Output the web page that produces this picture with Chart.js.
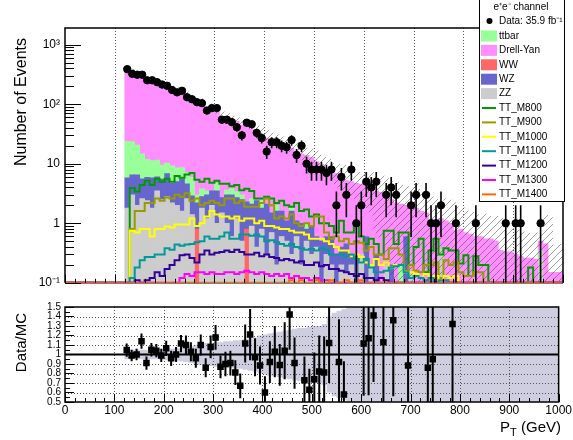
<!DOCTYPE html>
<html><head><meta charset="utf-8">
<script src="https://cdn.jsdelivr.net/npm/chart.js@4"></script>
<style>
html,body{margin:0;padding:0;background:#fff;}
#wrap{position:relative;width:573px;height:440px;overflow:hidden;background:#fff}
#c1{position:absolute;left:0;top:0}
#c2{position:absolute;left:0;top:295px}
</style></head><body>
<div id="wrap"><canvas id="c1" width="573" height="295"></canvas><canvas id="c2" width="573" height="145"></canvas></div>
<script>
const FONT = "'Liberation Sans', Arial, Helvetica, sans-serif";

// ---- categories: pT bin centres (GeV), 10 GeV bins ----
const ptCenters = [125,135,145,155,165,175,185,195,205,215,
  225,235,245,255,265,275,285,295,305,315,
  325,335,345,355,365,375,385,395,405,415,
  425,435,445,455,465,475,485,495,505,515,
  525,535,545,555,565,575,585,595,605,615,
  625,635,645,655,665,675,685,695,705,715,
  725,735,745,755,765,775,785,795,805,815,
  825,835,845,855,865,875,885,895,905,915,
  925,935,945,955,965,975,985,995];

// ---- data (events per bin) ----
const dataCounts = [388,324,313,313,252,252,234,214,204,173,
  158,168,131,121,108,104,78,86,86,55,
  55,50,41,30,49,46,33,27,16,23,
  23,20,19,25,14,20,10,8,8,8,
  7,8,2,6,3,8,1,2,5,4,
  5,0,3,4,3,0,0,2,3,0,
  3,1,1,2,0,0,1,0,0,0,
  1,0,0,0,0,0,1,0,1,1,
  0,0,0,1,0,0,0,0];

// ---- backgrounds (stacked) ----
const zzYield = [1.8,3.0,2.0,2.6,2.4,1.8,3.5,2.5,2.8,2.2,
  2.0,1.6,2.6,1.4,0,1.8,1.2,2.0,1.0,1.5,
  1.0,0.6,1.2,0.5,0,0.9,0.4,0.8,0.3,0.7,
  0.2,0.6,0.5,0.3,0.6,0.2,0.5,0.3,0.4,0,
  0.3,0.2,0,0.2,0.15,0.2,0,0.3,0,0.2,
  0.1,0,0.2,0,0,0,0,0.15,0,0,
  0.1,0,0,0.37,0,0,0,0,0,0,
  0,0,0,0,0,0,0,0,0,0,
  0,0,0,0.35,0,0,0,0];
const wwYield = [0,0,0,0,0,0,0,0,0,0,
  0,0,0,0,0.8,0,0,0,0,0,
  0,0,0,0,0.8,0,0,0,0,0,
  0,0,0,0,0,0,0,0,0,0,
  0,0,0,0,0,0,0,0,0,0,
  0,0,0,0,0,0,0,0,0,0,
  0,0,0,0,0,0,0,0,0,0,
  0,0,0,0,0,0,0,0,0,0,
  0,0,0,0,0,0,0,0];
const wzYield = [4.0,3.5,4.5,3.0,3.5,4.0,2.5,3.0,4.0,2.5,
  3.0,4.0,2.0,1.5,1.4,1.0,1.8,1.5,2.5,1.2,
  2.0,2.4,1.5,2.0,1.5,1.2,2.0,1.0,1.8,0.8,
  1.4,1.0,0.6,1.3,0.5,0.8,0.3,0.6,0.2,0.5,
  0.3,0.4,0.3,0.2,0.3,0.1,0.3,0,0.6,0,
  0.2,0,0,0.2,0,0,0.6,0,0,0,
  0,0,0,0,0,0,0,0,0,0,
  0,0,0,0,0,0,0,0,0,0,
  0,0,0,0,0,0,0,0];
const ttbarYield = [18,17,14,9,6,5.5,5.5,4,3.5,4.5,
  3.5,3.0,2.5,3.0,0.8,1.0,0.5,0,1.2,0,
  0.6,0.8,0.7,0.5,0,0.5,0,0.6,0,0,
  0.4,0,0,0.3,0,0,0.2,0,0,0,
  0,0,0,0,0,0,0,0,0,0,
  0,0,0,0,0,0.2,0,0,0,0,
  0,0,0,0,0,0,0,0,0,0,
  0,0,0,0,0,0,0,0,0,0,
  0,0,0,0,0,0,0,0];
const dyYield = [347,304,292,260,265,229,214,206,182,171,
  150,142,112,111,109,91,88,77,68,60,
  58,51,48,42,42,36,32,28.5,25,23.8,
  21.1,21.1,17.5,16.3,15,13.5,12.9,11.8,10.2,9.3,
  8.0,6.5,6.5,6.1,4.75,4.7,4.4,4.2,3.9,3.2,
  3.2,3.3,2.45,2.3,2.2,1.9,1.4,2.1,1.8,1.6,
  1.4,1.16,1.05,0.83,1.1,1.0,0.76,0.8,0.7,0.66,
  0.6,0.6,0.55,0.55,0.5,0.35,0.33,0.33,0.3,0.28,
  0.26,0.26,0.25,0.15,0.45,0.15,0.15,0.15];
// relative MC uncertainty per bin
const mcRelErr = [0.05,0.05,0.05,0.05,0.05,0.05,0.055,0.06,0.06,0.065,
  0.07,0.08,0.09,0.1,0.11,0.12,0.12,0.13,0.13,0.14,
  0.14,0.15,0.15,0.16,0.17,0.18,0.2,0.21,0.22,0.23,
  0.24,0.25,0.26,0.27,0.28,0.28,0.29,0.3,0.3,0.32,
  0.4,0.44,0.46,0.48,0.5,0.52,0.55,0.6,0.7,0.8,
  0.85,0.9,0.95,1.0,1.0,1.05,1.1,1.1,1.1,1.15,
  1.15,1.2,1.2,1.2,1.25,1.25,1.3,1.3,1.3,1.35,
  1.35,1.4,1.4,1.45,1.45,1.5,1.5,1.55,1.6,1.6,
  1.65,1.7,1.7,1.75,1.8,1.9,2.0,2.0];

// ---- signals ----
const ttM800 = [3.9,3.4,4.4,5.2,4.4,5.6,5.0,5.6,5.0,6.2,
  5.8,6.6,7.0,5.4,5.0,5.6,4.8,5.2,4.6,4.6,
  4.2,4.4,3.6,3.8,3.5,2.6,2.6,2.8,2.6,2.2,
  2.4,2.0,1.9,2.2,1.6,1.7,1.3,1.4,1.0,1.0,
  0.9,0.7,1.1,0.7,0.7,1.0,0.6,0.45,0.55,0.45,
  0.3,0.75,0.75,0.45,0.7,0.7,0.2,0.4,0.55,0.15,
  0.35,0.55,0.3,0.38,0.35,0.35,0.21,0.29,0.13,0.28,
  0.2,0.2,0,0,0,0,0,0,0,0,
  0.18,0,0,0,0,0,0,0];
const ttM900 = [0.8,1.6,1.6,2.2,2.2,2.6,2.4,2.7,2.6,3.0,
  2.8,3.2,2.4,2.6,2.0,2.2,2.4,2.2,2.0,2.6,
  2.6,2.2,2.4,1.9,1.9,1.9,2.2,2.6,2.0,1.2,
  1.3,1.2,1.4,1.0,0.9,1.0,0.9,1.3,1.3,0.7,
  0.55,0.6,0.5,0.55,0.45,0.5,0.47,0.35,0.4,0.3,
  0.3,0.25,0.38,0.38,0.3,0.16,0.2,0.16,0.15,0.2,
  0.2,0.22,0.12,0.24,0.2,0.22,0.15,0.13,0.13,0.15,
  0.15,0,0,0,0,0,0,0,0,0,
  0,0,0,0,0,0,0,0];
const ttM1000 = [0.75,0.7,0.8,0.8,0.6,0.8,0.8,0.88,0.85,0.95,
  0.95,0.95,1.2,0.9,1.0,1.3,1.6,1.4,1.3,1.3,
  1.2,1.3,1.1,1.2,1.2,1.0,1.1,0.9,0.9,0.85,
  0.8,0.8,0.75,0.7,0.7,0.65,0.55,0.55,0.55,0.5,
  0.45,0.4,0.35,0.35,0.28,0.3,0.27,0.22,0.2,0.25,
  0.2,0.22,0.18,0.2,0.2,0.15,0.15,0.14,0.12,0.14,
  0.12,0.13,0.11,0.13,0.12,0.13,0,0,0,0,
  0,0,0,0,0,0,0,0,0,0,
  0,0,0,0,0,0,0,0];
const ttM1100 = [0.12,0.18,0.24,0.27,0.27,0.3,0.3,0.38,0.36,0.44,
  0.42,0.44,0.45,0.48,0.5,0.6,0.55,0.55,0.6,0.7,
  0.55,0.55,0.65,0.65,0.62,0.65,0.6,0.5,0.52,0.48,
  0.45,0.42,0.45,0.4,0.38,0.36,0.37,0.35,0.38,0.36,
  0.3,0.3,0.3,0.28,0.3,0.25,0.22,0.25,0.18,0.15,
  0.15,0.16,0.18,0.19,0.2,0.15,0.12,0.13,0.12,0.11,
  0.12,0.1,0.11,0.11,0,0,0,0,0,0,
  0,0,0,0,0,0,0,0,0,0,
  0,0,0,0,0,0,0,0];
const ttM1200 = [0,0.11,0.1,0.11,0.12,0.15,0.13,0.17,0.2,0.24,
  0.29,0.3,0.26,0.22,0.3,0.35,0.3,0.32,0.33,0.35,
  0.33,0.36,0.33,0.3,0.3,0.32,0.28,0.3,0.27,0.26,
  0.24,0.25,0.24,0.22,0.23,0.2,0.2,0.22,0.19,0.2,
  0.17,0.17,0.16,0.15,0.14,0.13,0.14,0.12,0.12,0.11,
  0.12,0.11,0,0,0,0,0,0,0,0,
  0,0,0,0,0,0,0,0,0,0,
  0,0,0,0,0,0,0,0,0,0,
  0,0,0,0,0,0,0,0];
const ttM1300 = [0,0,0,0,0,0,0,0,0,0,
  0.12,0.14,0.13,0.15,0.15,0.14,0.15,0.14,0.14,0.15,
  0.15,0.14,0.15,0.16,0.15,0.14,0.15,0.14,0.13,0.14,
  0.13,0.14,0.12,0.13,0.12,0.12,0.11,0.12,0.11,0.11,
  0,0,0,0,0,0,0,0,0,0,
  0,0,0,0,0,0,0,0,0,0,
  0,0,0,0,0,0,0,0,0,0,
  0,0,0,0,0,0,0,0,0,0,
  0,0,0,0,0,0,0,0];
const ttM1400 = [0,0,0,0,0,0,0,0,0,0,
  0,0,0,0,0,0,0,0,0,0,
  0,0,0,0,0,0,0,0,0,0,
  0,0,0.11,0,0.11,0,0,0.11,0,0,
  0.11,0,0,0.11,0,0,0.11,0,0,0,
  0,0,0,0,0,0,0,0,0,0,
  0,0,0,0,0,0,0,0,0,0,
  0,0,0,0,0,0,0,0,0,0,
  0,0,0,0,0,0,0,0];

// ---- ratio panel ----
const ratioValues = [1.047,0.99,1.0,1.14,0.91,1.05,1.04,0.99,1.065,0.96,
  1.0,1.115,1.1,1.03,0.96,1.10,0.86,1.08,1.18,0.87,
  0.90,0.91,0.81,0.67,1.115,1.21,0.97,0.885,0.60,0.92,
  1.03,0.89,1.04,1.42,0.91,null,0.73,0.63,0.74,0.82,
  0.81,1.12,null,0.92,0.58,null,null,null,1.115,1.17,
  1.41,null,1.13,null,1.36,null,null,0.885,null,null,
  null,0.86,0.95,null,null,null,1.32,null,null,null,
  null,null,null,null,null,null,null,null,null,null,
  null,null,null,null,null,null,null,null];
const ratioErrors = [0.07,0.06,0.06,0.08,0.07,0.07,0.07,0.07,0.08,0.08,
  0.08,0.09,0.1,0.1,0.1,0.11,0.1,0.12,0.13,0.12,
  0.13,0.13,0.13,0.13,0.2,0.27,0.2,0.2,0.17,0.22,
  0.27,0.22,0.3,0.37,0.27,null,0.25,0.22,0.28,0.38,
  0.38,0.42,null,0.45,0.35,null,null,null,0.55,0.6,
  0.7,null,0.65,null,0.8,null,null,0.65,null,null,
  null,0.86,0.95,null,null,null,1.3,null,null,null,
  null,null,null,null,null,null,null,null,null,null,
  null,null,null,null,null,null,null,null];

// ---- ticks ----
const yTickValues = [0.1, 1, 10, 100, 1000];
const yTickLabels = ['10\u207B\u00B9', '1', '10', '10\u00B2', '10\u00B3'];
const xTickValues = [0,100,200,300,400,500,600,700,800,900,1000];
const ratioTickValues = [0.5,0.6,0.7,0.8,0.9,1.0,1.1,1.2,1.3,1.4,1.5];
const ratioTickLabels = ['0.5','0.6','0.7','0.8','0.9','1','1.1','1.2','1.3','1.4','1.5'];

// ---- legend / series descriptions ----
const stackSeries = [
  {label:'ZZ', vals:zzYield, color:'#cccccc'},
  {label:'WW', vals:wwYield, color:'#ff6666'},
  {label:'WZ', vals:wzYield, color:'#6666cc'},
  {label:'ttbar', vals:ttbarYield, color:'#99ff99'},
  {label:'Drell-Yan', vals:dyYield, color:'#ff8fff'}
];
const signalSeries = [
  {label:'TT_M800', vals:ttM800, color:'#009900'},
  {label:'TT_M900', vals:ttM900, color:'#999900'},
  {label:'TT_M1000', vals:ttM1000, color:'#ffff00'},
  {label:'TT_M1100', vals:ttM1100, color:'#009999'},
  {label:'TT_M1200', vals:ttM1200, color:'#330099'},
  {label:'TT_M1300', vals:ttM1300, color:'#ff00ff'},
  {label:'TT_M1400', vals:ttM1400, color:'#ff6600'}
];
const legendBoxOrder = ['ttbar','Drell-Yan','WW','WZ','ZZ'];

const BIN_W = 10, X_MIN = 0, X_MAX = 1000;
const Y_MIN = 0.1, Y_MAX = 1905;

Chart.defaults.font.family = FONT;
Chart.defaults.color = '#000';

// histogram outline points: value of bin i applies between its low and high edge ('before' stepping)
function stepPoints(vals, floor, fromZero){
  const pts = [];
  const firstLow = ptCenters[0]-BIN_W/2;
  if (fromZero) { pts.push({x:X_MIN, y:floor}); pts.push({x:firstLow, y:floor}); }
  else pts.push({x:firstLow, y:Math.max(vals[0], floor)});
  vals.forEach((v,i)=>pts.push({x:ptCenters[i]+BIN_W/2, y:Math.max(v, floor)}));
  return pts;
}

const mcTotal = ptCenters.map((_,i)=>stackSeries.reduce((s,d)=>s+d.vals[i],0));

// hatch pattern
const ctx1 = document.getElementById('c1').getContext('2d');
const hc = document.createElement('canvas'); hc.width = 7; hc.height = 7;
const hg = hc.getContext('2d');
hg.strokeStyle = 'rgba(70,70,70,0.75)'; hg.lineWidth = 0.7;
hg.beginPath(); hg.moveTo(0,7); hg.lineTo(7,0); hg.moveTo(-1,1); hg.lineTo(1,-1); hg.moveTo(6,8); hg.lineTo(8,6); hg.stroke();
const hatch = ctx1.createPattern(hc, 'repeat');

const datasets1 = [];
stackSeries.forEach(s=>{
  datasets1.push({type:'bar', label:s.label, data:ptCenters.map((x,i)=>({x, y:s.vals[i]>0?s.vals[i]:null})),
    backgroundColor:s.color, borderWidth:0, barPercentage:1, categoryPercentage:1, stack:'bg', order:20, yAxisID:'y'});
});
datasets1.push({type:'line', label:'mcUp', data:stepPoints(mcTotal.map((t,i)=>t*(1+mcRelErr[i])), 1e-3, false),
  stepped:'before', fill:'+1', backgroundColor:hatch, borderColor:'rgba(0,0,0,0)', borderWidth:0, pointRadius:0, order:15, yAxisID:'yl'});
datasets1.push({type:'line', label:'mcDown', data:stepPoints(mcTotal.map((t,i)=>Math.max(t*(1-mcRelErr[i]),1e-3)), 1e-3, false),
  stepped:'before', fill:false, borderColor:'rgba(0,0,0,0)', borderWidth:0, pointRadius:0, order:15, yAxisID:'yl'});
signalSeries.forEach((s,k)=>{
  datasets1.push({type:'line', label:s.label, data:stepPoints(s.vals, Y_MIN, true), stepped:'before', fill:false,
    borderColor:s.color, borderWidth:2, pointRadius:0, order:10-k, yAxisID:'yl'});
});
datasets1.push({type:'line', label:'Data', errKind:'poisson', data:ptCenters.map((x,i)=>({x, y:dataCounts[i]>0?dataCounts[i]:null})),
  showLine:false, pointRadius:3.7, pointStyle:'circle', backgroundColor:'#000', borderColor:'#000', order:0, yAxisID:'yl'});

function dotted(ctx){ ctx.setLineDash([1,2]); ctx.strokeStyle='#555'; ctx.lineWidth=1; }

const topDecor = {
  id:'topDecor',
  beforeDatasetsDraw(chart){
    const {ctx, chartArea:a, scales:{x}} = chart;
    ctx.save();
    dotted(ctx);
    for (let v=100; v<X_MAX; v+=100){
      const px = Math.round(x.getPixelForValue(v))+0.5;
      ctx.beginPath(); ctx.moveTo(px,a.top); ctx.lineTo(px,a.bottom); ctx.stroke();
    }
    ctx.setLineDash([]); ctx.strokeStyle='#000'; ctx.lineWidth=1.5;
    ctx.beginPath(); ctx.moveTo(a.left,a.bottom); ctx.lineTo(a.right,a.bottom); ctx.stroke();
    ctx.restore();
  },
  beforeDatasetDraw(chart, args){
    const ds = chart.data.datasets[args.index];
    if (ds.errKind !== 'poisson') return;
    const {ctx, chartArea:a, scales:{x, yl}} = chart;
    ctx.save();
    ctx.beginPath(); ctx.rect(a.left,a.top,a.right-a.left,a.bottom-a.top); ctx.clip();
    ctx.strokeStyle='#000'; ctx.lineWidth=1.6;
    dataCounts.forEach((n,i)=>{
      if (n<=0) return;
      const e = Math.sqrt(n);
      const px = x.getPixelForValue(ptCenters[i]);
      const hi = yl.getPixelForValue(n+e);
      const lo = (n-e) > Y_MIN ? yl.getPixelForValue(n-e) : a.bottom;
      ctx.beginPath(); ctx.moveTo(px,hi); ctx.lineTo(px,lo); ctx.stroke();
    });
    ctx.restore();
  },
  afterDatasetsDraw(chart){
    const {ctx, chartArea:a, scales:{x, y}} = chart;
    ctx.save();
    ctx.strokeStyle='#000'; ctx.lineWidth=1.5;
    ctx.beginPath(); ctx.moveTo(a.left,a.bottom); ctx.lineTo(a.left,a.top); ctx.lineTo(a.right,a.top); ctx.lineTo(a.right,a.bottom); ctx.stroke();
    ctx.lineWidth=1;
    for (let d=-1; d<=3; d++){
      for (let m=1; m<=9; m++){
        const v = m*Math.pow(10,d);
        if (v < Y_MIN || v > Y_MAX) continue;
        const py = Math.round(y.getPixelForValue(v))+0.5;
        const len = m===1 ? 16 : 9;
        ctx.beginPath(); ctx.moveTo(a.left,py); ctx.lineTo(a.left+len,py); ctx.stroke();
      }
    }
    for (let v=0; v<=X_MAX; v+=20){
      const px = Math.round(x.getPixelForValue(v))+0.5;
      const len = v%100===0 ? 8 : 4;
      ctx.beginPath(); ctx.moveTo(px,a.bottom); ctx.lineTo(px,a.bottom-len); ctx.stroke();
    }
    ctx.save();
    ctx.translate(22, 38); ctx.rotate(-Math.PI/2);
    ctx.font = '16px '+FONT; ctx.fillStyle='#000'; ctx.textAlign='right'; ctx.textBaseline='middle';
    ctx.fillText('Number of Events', 0, 0);
    ctx.restore();
    // legend
    const L=479.5, R=564.5, T=-1, B=201.5;
    ctx.fillStyle='#fff'; ctx.fillRect(L,T,R-L,B-T);
    ctx.strokeStyle='#000'; ctx.lineWidth=1; ctx.strokeRect(L,T,R-L,B-T);
    ctx.fillStyle='#000'; ctx.font='10px '+FONT; ctx.textBaseline='middle';
    ctx.textAlign='center'; ctx.fillText('e\u207Ae\u207B channel', 521, 7);
    ctx.textAlign='left';
    ctx.beginPath(); ctx.arc(489.5, 21, 3, 0, 2*Math.PI); ctx.fill();
    ctx.fillText('Data: 35.9 fb\u207B\u00B9', 499, 21);
    let k = 0;
    legendBoxOrder.forEach(name=>{
      const s = stackSeries.find(d=>d.label===name);
      const cy = 36 + 14.4*k;
      ctx.fillStyle = s.color; ctx.fillRect(481, cy-5.5, 16, 11);
      ctx.fillStyle = '#000'; ctx.fillText(s.label, 499, cy);
      k++;
    });
    signalSeries.forEach(s=>{
      const cy = 36 + 14.4*k;
      ctx.strokeStyle = s.color; ctx.lineWidth = 2;
      ctx.beginPath(); ctx.moveTo(482, cy); ctx.lineTo(496, cy); ctx.stroke();
      ctx.fillStyle = '#000'; ctx.fillText(s.label, 499, cy);
      k++;
    });
    ctx.restore();
  }
};

new Chart(ctx1, {
  type:'bar',
  data:{datasets:datasets1},
  options:{
    responsive:false, animation:false, devicePixelRatio:1, events:[],
    layout:{padding:{left:0,right:10,top:28,bottom:7}, autoPadding:false},
    plugins:{legend:{display:false}, tooltip:{enabled:false}},
    scales:{
      x:{type:'linear', min:X_MIN, max:X_MAX, offset:false, stacked:true, display:false},
      y:{type:'logarithmic', position:'left', min:Y_MIN, max:Y_MAX, stacked:true,
        afterFit(s){ s.width = 65; },
        afterBuildTicks(s){ s.ticks = yTickValues.map(v=>({value:v})); },
        ticks:{callback:(v,i)=>yTickLabels[i], font:{size:12}, color:'#000', padding:5, autoSkip:false},
        grid:{display:false, drawTicks:false}, border:{display:false}},
      yl:{type:'logarithmic', position:'left', min:Y_MIN, max:Y_MAX, display:false}
    }
  },
  plugins:[topDecor]
});

// ---------------- ratio panel ----------------
const ctx2 = document.getElementById('c2').getContext('2d');
const bandLoPts = stepPoints(mcRelErr.map(e=>1-e), -5, false);
const bandHiPts = stepPoints(mcRelErr.map(e=>1+e), -5, false);
const datasets2 = [
  {type:'line', label:'bandUp', data:bandHiPts, stepped:'before', fill:'+1', backgroundColor:'rgb(206,206,224)',
    borderColor:'rgba(0,0,0,0)', borderWidth:0, pointRadius:0, order:10},
  {type:'line', label:'bandDown', data:bandLoPts, stepped:'before', fill:false,
    borderColor:'rgba(0,0,0,0)', borderWidth:0, pointRadius:0, order:9},
  {type:'line', label:'ratio', errKind:'ratio', data:ptCenters.map((x,i)=>({x, y:ratioValues[i]})),
    showLine:false, pointStyle:'rect', pointRadius:4.6, backgroundColor:'#000', borderColor:'#000', borderWidth:0, order:0, clip:0}
];

const ratioDecor = {
  id:'ratioDecor',
  afterDatasetDraw(chart, args){
    if (args.index !== 0) return;
    const {ctx, chartArea:a, scales:{x, y}} = chart;
    ctx.save();
    dotted(ctx);
    for (let v=100; v<X_MAX; v+=100){
      const px = Math.round(x.getPixelForValue(v))+0.5;
      ctx.beginPath(); ctx.moveTo(px,a.top); ctx.lineTo(px,a.bottom); ctx.stroke();
    }
    ratioTickValues.forEach(v=>{
      if (v===0.5 || v===1.5 || v===1.0) return;
      const py = Math.round(y.getPixelForValue(v))+0.5;
      ctx.beginPath(); ctx.moveTo(a.left,py); ctx.lineTo(a.right,py); ctx.stroke();
    });
    ctx.setLineDash([]);
    ctx.strokeStyle='#000'; ctx.lineWidth=2;
    const p1 = y.getPixelForValue(1.0);
    ctx.beginPath(); ctx.moveTo(a.left,p1); ctx.lineTo(a.right,p1); ctx.stroke();
    ctx.restore();
  },
  beforeDatasetDraw(chart, args){
    const ds = chart.data.datasets[args.index];
    if (ds.errKind !== 'ratio') return;
    const {ctx, chartArea:a, scales:{x, y}} = chart;
    ctx.save();
    ctx.beginPath(); ctx.rect(a.left,a.top,a.right-a.left,a.bottom-a.top); ctx.clip();
    ctx.strokeStyle='#000'; ctx.lineWidth=2;
    ratioValues.forEach((r,i)=>{
      if (r===null || ratioErrors[i]===null) return;
      const px = x.getPixelForValue(ptCenters[i]);
      ctx.beginPath(); ctx.moveTo(px, y.getPixelForValue(r+ratioErrors[i])); ctx.lineTo(px, y.getPixelForValue(r-ratioErrors[i])); ctx.stroke();
    });
    ctx.restore();
  },
  afterDatasetsDraw(chart){
    const {ctx, chartArea:a, scales:{x, y}} = chart;
    ctx.save();
    ctx.strokeStyle='#000'; ctx.lineWidth=1.5;
    ctx.strokeRect(a.left, a.top, a.right-a.left, a.bottom-a.top);
    ctx.lineWidth=1;
    for (let v=0.5; v<=1.5001; v+=0.05){
      const py = Math.round(y.getPixelForValue(v))+0.5;
      const major = Math.abs(Math.round(v*10)-v*10) < 1e-6;
      ctx.beginPath(); ctx.moveTo(a.left,py); ctx.lineTo(a.left+(major?9:5),py); ctx.stroke();
    }
    for (let v=0; v<=X_MAX; v+=20){
      const px = Math.round(x.getPixelForValue(v))+0.5;
      const len = v%100===0 ? 8 : 4;
      ctx.beginPath(); ctx.moveTo(px,a.bottom); ctx.lineTo(px,a.bottom-len); ctx.stroke();
    }
    ctx.save();
    ctx.translate(22, 18); ctx.rotate(-Math.PI/2);
    ctx.font='15px '+FONT; ctx.fillStyle='#000'; ctx.textAlign='right'; ctx.textBaseline='middle';
    ctx.fillText('Data/MC', 0, 0);
    ctx.restore();
    ctx.fillStyle='#000'; ctx.textBaseline='alphabetic'; ctx.textAlign='left';
    ctx.font='15px '+FONT;
    const t1='P', t3=' (GeV)';
    const w1=ctx.measureText(t1).width, w3=ctx.measureText(t3).width;
    ctx.font='11px '+FONT; const w2=ctx.measureText('T').width;
    const xEnd = 561, base = 137;
    const x0 = xEnd - w1 - w2 - w3;
    ctx.font='15px '+FONT; ctx.fillText(t1, x0, base);
    ctx.font='11px '+FONT; ctx.fillText('T', x0+w1, base+4);
    ctx.font='15px '+FONT; ctx.fillText(t3, x0+w1+w2, base);
    ctx.restore();
  }
};

new Chart(ctx2, {
  type:'line',
  data:{datasets:datasets2},
  options:{
    responsive:false, animation:false, devicePixelRatio:1, events:[],
    layout:{padding:{left:0,right:10,top:12,bottom:0}, autoPadding:false},
    plugins:{legend:{display:false}, tooltip:{enabled:false}},
    scales:{
      x:{type:'linear', min:X_MIN, max:X_MAX, offset:false,
        afterFit(s){ s.height = 38; },
        afterBuildTicks(s){ s.ticks = xTickValues.map(v=>({value:v})); },
        ticks:{callback:(v)=>String(v), font:{size:12}, color:'#000', padding:1, maxRotation:0, autoSkip:false},
        grid:{display:false, drawTicks:false}, border:{display:false}},
      y:{type:'linear', min:0.5, max:1.5,
        afterFit(s){ s.width = 65; },
        afterBuildTicks(s){ s.ticks = ratioTickValues.map(v=>({value:v})); },
        ticks:{callback:(v,i)=>ratioTickLabels[i], font:{size:10}, color:'#000', padding:4, autoSkip:false},
        grid:{display:false, drawTicks:false}, border:{display:false}}
    }
  },
  plugins:[ratioDecor]
});
</script>
</body></html>
